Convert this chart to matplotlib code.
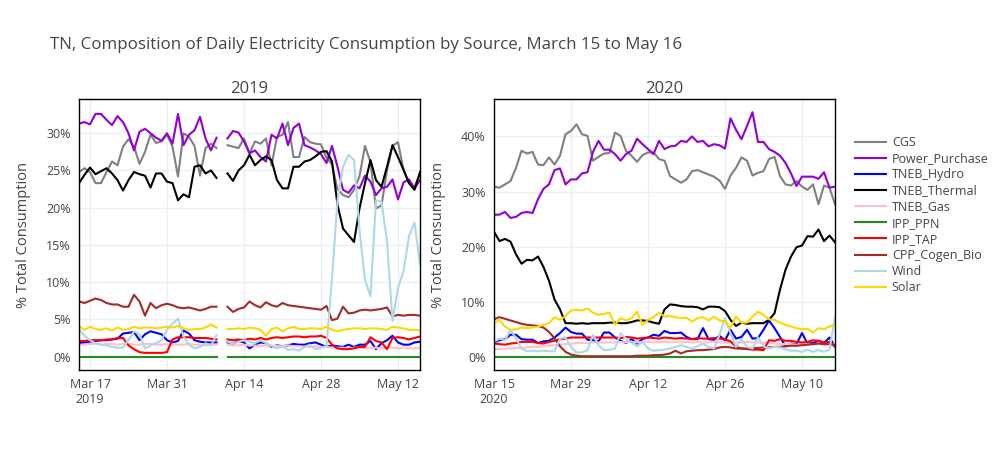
import numpy as np
import pandas as pd
import matplotlib
matplotlib.use("Agg")
import matplotlib.pyplot as plt

nan = np.nan

sources = ['CGS', 'Power_Purchase', 'TNEB_Hydro', 'TNEB_Thermal', 'TNEB_Gas',
           'IPP_PPN', 'IPP_TAP', 'CPP_Cogen_Bio', 'Wind', 'Solar']
colors = ['grey', 'darkviolet', 'blue', 'black', 'pink',
          'forestgreen', 'red', 'brown', 'lightblue', 'gold']

dates_2019 = pd.date_range('2019-03-15', '2019-05-16', freq='D')
dates_2020 = pd.date_range('2020-03-15', '2020-05-16', freq='D')

# 2019, % of total consumption (Apr 10 missing)
cgs_2019 = [24.8, 25.3, 24.8, 23.3, 23.3, 24.8, 26.2, 25.7, 28.2, 29.2, 28.2, 25.9, 27.5, 29.8, 28.7, 28.9,
            29.8, 28.2, 24.2, 30.0, 29.5, 28.3, 24.3, 28.0, 28.6, 28.0, nan,
            28.4, 28.2, 28.0, 29.3, 27.3, 28.9, 28.6, 29.3, 25.7, 29.5, 29.8, 31.5, 26.8, 26.8, 29.5, 28.8,
            28.6, 28.5, 26.7, 25.8, 22.5, 21.7, 21.4, 22.4, 24.2, 28.3, 26.1, 19.9, 20.3, 25.0, 28.3, 28.8,
            25.1, 23.3, 22.8, 24.5]
pp_2019 = [31.3, 31.5, 31.2, 32.6, 32.6, 31.8, 31.1, 32.3, 31.5, 30.0, 27.7, 30.2, 30.6, 30.0, 29.4, 29.0,
           30.0, 28.6, 32.6, 28.4, 29.8, 30.4, 32.2, 29.3, 27.7, 29.4, nan,
           29.3, 30.3, 30.1, 28.9, 27.3, 27.7, 26.8, 26.2, 29.8, 29.3, 31.3, 28.4, 30.7, 31.3, 28.4, 28.1,
           27.7, 27.2, 26.0, 28.3, 25.5, 22.4, 22.0, 23.0, 22.6, 24.3, 23.5, 21.7, 22.6, 22.8, 23.8, 21.1,
           23.4, 23.8, 22.6, 23.7]
hydro_2019 = [1.8, 1.9, 2.0, 2.1, 2.2, 2.2, 2.3, 2.4, 3.1, 3.2, 3.3, 2.2, 3.0, 3.4, 3.2, 3.0,
              2.2, 1.9, 2.1, 3.5, 3.1, 2.2, 2.0, 1.9, 1.9, 1.9, nan,
              1.9, 1.7, 2.1, 1.9, 1.1, 1.6, 1.9, 1.8, 1.3, 1.5, 1.4, 1.5, 1.7, 1.6, 1.6, 1.8,
              1.9, 1.6, 1.3, 1.5, 1.4, 1.3, 1.6, 1.3, 1.6, 1.6, 2.1, 1.0, 1.8, 2.2, 2.8, 1.9,
              1.6, 1.6, 1.9, 2.0]
thermal_2019 = [23.3, 24.4, 25.4, 24.5, 24.9, 25.3, 24.6, 23.7, 22.3, 23.7, 24.8, 24.5, 24.3, 22.7, 24.6, 24.6,
                23.5, 23.3, 21.0, 21.8, 21.4, 25.5, 25.7, 24.6, 25.0, 24.0, nan,
                24.6, 23.6, 25.0, 25.7, 27.1, 25.7, 26.4, 26.9, 26.4, 23.7, 22.6, 22.6, 25.5, 25.5, 26.2, 26.4,
                26.9, 27.5, 27.6, 26.2, 20.4, 17.2, 16.3, 15.4, 19.9, 23.3, 26.4, 23.7, 22.8, 25.5, 28.4, 26.8,
                25.1, 23.3, 22.4, 24.8]
gas_2019 = [1.6, 1.6, 1.7, 1.7, 1.6, 1.7, 1.7, 1.6, 1.7, 1.7, 1.6, 1.6, 1.7, 1.7, 1.6, 1.6,
            1.7, 1.6, 1.6, 1.6, 1.7, 1.6, 1.6, 1.5, 1.6, 1.6, nan,
            1.6, 1.5, 1.5, 1.6, 1.5, 1.5, 1.4, 1.5, 1.5, 1.4, 1.4, 1.5, 1.4, 1.4, 1.3, 1.3,
            1.4, 1.3, 1.3, 1.2, 1.2, 1.2, 1.1, 1.2, 1.2, 1.1, 1.2, 1.2, 1.1, 1.2, 1.2, 1.1,
            1.2, 1.1, 1.1, 1.2]
ppn_2019 = [0.0, 0.0, 0.0, 0.0, 0.0, 0.0, 0.0, 0.0, 0.0, 0.0, 0.0, 0.0, 0.0, 0.0, 0.0, 0.0,
            0.0, 0.0, 0.0, 0.0, 0.0, 0.0, 0.0, 0.0, 0.0, 0.0, nan,
            0.0, 0.0, 0.0, 0.0, 0.0, 0.0, 0.0, 0.0, 0.0, 0.0, 0.0, 0.0, 0.0, 0.0, 0.0, 0.0,
            0.0, 0.0, 0.0, 0.0, 0.0, 0.0, 0.0, 0.0, 0.0, 0.0, 0.0, 0.0, 0.0, 0.0, 0.0, 0.0,
            0.0, 0.0, 0.0, 0.0]
tap_2019 = [2.1, 2.1, 2.2, 2.2, 2.2, 2.3, 2.3, 2.5, 2.5, 1.5, 1.0, 0.6, 0.5, 0.5, 0.5, 0.5,
            0.6, 2.3, 2.6, 2.6, 2.6, 2.5, 2.5, 2.5, 2.4, 2.3, nan,
            2.3, 2.2, 2.3, 2.2, 2.4, 2.3, 2.5, 2.3, 2.5, 2.6, 2.5, 2.6, 2.7, 2.7, 2.6, 2.7,
            2.7, 2.8, 2.5, 1.6, 1.1, 1.0, 1.0, 1.1, 1.3, 1.3, 2.6, 2.1, 1.9, 1.0, 2.5, 2.6,
            2.5, 2.3, 2.5, 2.7]
cogen_2019 = [7.4, 7.2, 7.5, 7.8, 7.6, 7.2, 7.0, 7.0, 6.7, 6.7, 8.3, 7.4, 5.5, 7.2, 6.5, 6.9,
              7.1, 6.9, 6.6, 6.5, 6.6, 6.4, 6.2, 6.4, 6.7, 6.7, nan,
              6.7, 6.0, 6.4, 6.6, 7.4, 6.9, 6.6, 7.3, 6.9, 6.7, 7.2, 6.9, 6.8, 6.7, 6.6, 6.5,
              6.4, 6.3, 6.8, 4.9, 5.1, 6.7, 5.8, 5.9, 6.2, 6.3, 6.2, 6.3, 6.4, 6.6, 5.4, 5.6,
              5.5, 5.6, 5.6, 5.5]
wind_2019 = [3.7, 2.8, 2.2, 1.8, 1.6, 1.5, 1.3, 1.2, 1.2, 2.2, 3.4, 3.0, 1.1, 1.5, 1.8, 2.2,
             3.6, 4.4, 5.1, 2.7, 1.6, 1.1, 1.3, 1.8, 1.5, 2.9, nan,
             2.0, 1.7, 2.0, 2.2, 2.0, 1.8, 2.2, 1.8, 1.4, 1.1, 1.4, 0.9, 1.0, 0.8, 1.3, 1.6,
             1.0, 1.2, 1.4, 10.5, 21.0, 25.5, 27.1, 26.4, 17.0, 10.3, 8.1, 21.0, 20.8, 15.5, 4.8, 9.2,
             11.5, 16.2, 18.0, 12.4]
solar_2019 = [4.1, 3.6, 4.0, 3.7, 3.6, 3.8, 3.5, 3.9, 3.6, 3.7, 4.0, 3.8, 3.9, 3.9, 3.8, 3.9,
              4.0, 3.9, 4.1, 3.8, 3.6, 3.7, 3.7, 3.9, 4.3, 3.9, nan,
              3.7, 3.7, 3.8, 3.7, 3.9, 3.8, 3.6, 2.8, 3.7, 3.9, 3.4, 3.8, 4.0, 3.7, 3.7, 3.8,
              3.8, 3.7, 4.0, 3.6, 3.4, 3.6, 3.7, 3.8, 3.8, 3.7, 3.8, 3.8, 3.7, 3.6, 4.0, 3.9,
              3.8, 3.6, 3.6, 3.5]

# 2020, % of total consumption
cgs_2020 = [30.9, 30.7, 31.3, 31.9, 34.3, 37.4, 36.9, 37.2, 34.9, 34.8, 36.2, 34.9, 36.5, 40.4, 41.0, 42.2,
            40.4, 40.1, 35.6, 36.3, 36.9, 37.0, 40.7, 40.1, 37.4, 36.5, 35.4, 36.6, 37.1, 37.1, 35.9, 35.6,
            32.8, 32.2, 31.6, 32.2, 33.7, 33.9, 33.5, 33.1, 32.7, 32.0, 30.5, 32.9, 34.3, 36.2, 35.6, 32.9,
            33.4, 33.7, 35.9, 36.3, 32.8, 31.3, 31.1, 31.9, 30.9, 30.3, 31.3, 27.7, 31.1, 30.7, 27.7]
pp_2020 = [25.8, 25.8, 26.3, 25.2, 25.4, 26.1, 26.3, 26.1, 28.6, 30.5, 31.3, 33.9, 34.2, 31.3, 32.2, 32.2,
           33.3, 33.5, 37.2, 39.2, 37.6, 37.6, 36.8, 35.6, 36.8, 37.4, 39.6, 38.6, 37.7, 36.8, 39.2, 37.7,
           38.2, 38.3, 39.2, 39.0, 40.0, 39.0, 39.2, 38.2, 38.6, 38.4, 37.8, 43.3, 41.2, 39.5, 41.9, 44.4,
           39.0, 39.0, 37.7, 37.2, 36.5, 35.2, 33.3, 31.0, 32.7, 32.7, 32.7, 32.3, 33.5, 30.7, 30.9]
hydro_2020 = [2.6, 3.0, 3.2, 4.0, 4.0, 3.2, 3.1, 3.1, 2.5, 2.8, 2.9, 3.5, 4.3, 5.3, 4.5, 4.2,
              4.2, 3.1, 3.0, 2.8, 4.4, 4.4, 3.5, 2.9, 2.5, 3.2, 2.4, 3.2, 3.5, 4.0, 3.8, 4.7,
              4.3, 4.3, 4.4, 3.6, 3.2, 3.2, 5.2, 3.2, 3.1, 3.8, 3.0, 4.9, 3.3, 3.6, 4.9, 3.3,
              3.4, 4.9, 6.6, 5.2, 3.6, 1.9, 2.4, 2.3, 4.3, 2.4, 2.5, 2.9, 2.5, 3.5, 1.8]
thermal_2020 = [22.7, 21.0, 21.4, 20.9, 18.6, 16.9, 17.6, 17.5, 18.2, 16.3, 13.8, 10.4, 8.6, 6.1, 6.1, 6.0,
                6.1, 6.0, 6.1, 6.1, 6.1, 6.2, 6.2, 6.1, 6.1, 6.3, 6.6, 6.6, 6.5, 6.2, 6.0, 8.6,
                9.5, 9.4, 9.2, 9.1, 9.1, 9.0, 8.6, 9.1, 9.1, 9.0, 8.3, 6.7, 5.6, 6.2, 6.0, 6.1,
                6.1, 6.1, 6.7, 7.9, 12.2, 15.8, 18.2, 19.9, 20.2, 21.9, 21.8, 23.1, 21.0, 22.0, 20.8]
gas_2020 = [1.4, 1.4, 1.5, 1.5, 1.6, 1.6, 1.7, 1.8, 1.8, 1.9, 2.0, 2.1, 2.2, 2.3, 2.4, 2.5,
            2.5, 2.5, 2.6, 2.6, 2.6, 2.6, 2.6, 2.7, 2.6, 2.7, 2.6, 2.7, 2.7, 2.6, 2.7, 2.7,
            2.6, 2.7, 2.6, 2.7, 2.6, 2.7, 2.6, 2.6, 2.7, 2.6, 2.6, 2.7, 2.6, 2.6, 2.7, 2.6,
            2.6, 2.5, 2.4, 2.4, 2.3, 2.3, 2.3, 2.2, 2.3, 2.3, 2.2, 2.3, 2.2, 2.3, 2.2]
ppn_2020 = [0.0, 0.0, 0.0, 0.0, 0.0, 0.0, 0.0, 0.0, 0.0, 0.0, 0.0, 0.0, 0.0, 0.0, 0.0, 0.0,
            0.0, 0.0, 0.0, 0.0, 0.0, 0.0, 0.0, 0.0, 0.0, 0.0, 0.0, 0.0, 0.0, 0.0, 0.0, 0.0,
            0.0, 0.0, 0.0, 0.0, 0.0, 0.0, 0.0, 0.0, 0.0, 0.0, 0.0, 0.0, 0.0, 0.0, 0.0, 0.0,
            0.0, 0.0, 0.0, 0.0, 0.0, 0.0, 0.0, 0.0, 0.0, 0.0, 0.0, 0.0, 0.0, 0.0, 0.0]
tap_2020 = [2.4, 2.3, 2.2, 2.4, 2.5, 2.7, 2.7, 2.7, 2.5, 2.4, 2.7, 2.9, 3.2, 3.3, 3.5, 3.5,
            3.5, 3.5, 3.5, 3.5, 3.5, 3.5, 3.5, 3.4, 3.6, 3.5, 3.3, 3.4, 3.5, 3.4, 3.3, 3.5,
            3.4, 3.3, 3.4, 3.3, 3.2, 3.4, 3.3, 3.3, 3.4, 3.3, 3.2, 2.8, 1.8, 1.5, 1.4, 1.3,
            1.3, 1.2, 3.0, 2.9, 3.2, 2.9, 2.9, 2.7, 2.6, 2.7, 3.0, 2.9, 2.6, 2.7, 1.9]
cogen_2020 = [6.8, 7.2, 6.9, 6.6, 6.3, 6.0, 5.8, 5.7, 5.6, 5.3, 4.5, 3.4, 1.9, 0.9, 0.4, 0.2,
              0.1, 0.1, 0.1, 0.1, 0.1, 0.1, 0.1, 0.1, 0.1, 0.1, 0.2, 0.2, 0.2, 0.3, 0.3, 0.4,
              0.6, 1.1, 0.6, 1.0, 1.1, 1.2, 1.2, 1.3, 1.4, 1.7, 1.8, 1.7, 1.5, 1.5, 1.5, 1.6,
              1.6, 1.7, 1.7, 1.8, 1.8, 1.9, 2.0, 2.0, 2.1, 2.2, 2.3, 2.4, 2.3, 2.3, 2.1]
wind_2020 = [2.7, 3.3, 3.0, 4.9, 3.3, 1.5, 1.0, 1.1, 1.0, 1.1, 1.0, 1.0, 3.3, 3.5, 1.8, 0.8,
             0.8, 1.2, 4.0, 2.1, 1.2, 1.3, 1.5, 4.3, 3.3, 2.6, 1.9, 2.7, 1.5, 1.1, 1.2, 1.3,
             1.5, 1.8, 2.1, 1.8, 1.5, 1.9, 2.4, 1.8, 1.5, 4.0, 7.0, 4.3, 1.8, 3.2, 1.8, 1.5,
             3.5, 1.9, 1.5, 1.8, 1.7, 1.3, 1.1, 1.1, 0.9, 1.3, 0.9, 1.2, 0.9, 1.3, 7.3]
solar_2020 = [6.1, 6.7, 5.5, 4.9, 5.0, 5.3, 5.2, 5.3, 5.5, 5.8, 6.1, 7.2, 6.7, 7.4, 8.4, 8.5,
              8.4, 8.8, 8.0, 7.6, 7.8, 8.0, 5.8, 7.0, 6.6, 7.0, 8.2, 5.8, 6.7, 7.2, 8.0, 7.3,
              7.4, 7.2, 7.0, 7.1, 6.4, 7.0, 7.2, 6.6, 7.3, 6.6, 6.4, 5.3, 7.3, 6.2, 6.2, 7.3,
              8.2, 7.6, 6.8, 6.7, 6.2, 5.8, 5.5, 5.2, 5.0, 5.1, 4.4, 5.2, 5.0, 5.5, 5.8]

series_2019 = [cgs_2019, pp_2019, hydro_2019, thermal_2019, gas_2019,
               ppn_2019, tap_2019, cogen_2019, wind_2019, solar_2019]
series_2020 = [cgs_2020, pp_2020, hydro_2020, thermal_2020, gas_2020,
               ppn_2020, tap_2020, cogen_2020, wind_2020, solar_2020]

ticks_2019 = ['2019-03-17', '2019-03-31', '2019-04-14', '2019-04-28', '2019-05-12']
ticks_2020 = ['2020-03-15', '2020-03-29', '2020-04-12', '2020-04-26', '2020-05-10']

plt.rcParams['font.family'] = ['Open Sans', 'DejaVu Sans']
text_color = '#444444'

fig = plt.figure(figsize=(10, 4.5), dpi=100)
fig.text(0.05, 1 - 45 / 450, 'TN, Composition of Daily Electricity Consumption by Source, March 15 to May 16',
         fontsize=12.2, color=text_color, va='center', ha='left')

ax1 = fig.add_axes([0.079, 1 - 370 / 450, 0.341, 271 / 450])
ax2 = fig.add_axes([0.494, 1 - 370 / 450, 0.341, 271 / 450])


def draw(ax, dates, series, title, ticks, ylim, ystep):
    for name, vals, c in zip(sources, series, colors):
        ax.plot(dates, vals, color=c, lw=1.5, label=name)
    ax.set_xlim(dates[0], dates[-1])
    ax.set_ylim(*ylim)
    ax.set_yticks(np.arange(0, ylim[1], ystep))
    ax.yaxis.set_major_formatter(matplotlib.ticker.FuncFormatter(lambda v, p: '%d%%' % v))
    tk = pd.to_datetime(ticks)
    ax.set_xticks(tk)
    labels = [d.strftime('%b %d') for d in tk]
    labels[0] = labels[0] + '\n' + tk[0].strftime('%Y')
    ax.set_xticklabels(labels)
    ax.grid(True, color='#EBF0F8', lw=1)
    ax.set_axisbelow(True)
    for s in ax.spines.values():
        s.set_color('black')
        s.set_linewidth(1.0)
    ax.tick_params(length=0, pad=6, labelsize=9, colors=text_color)
    ax.set_title(title, fontsize=12, color=text_color, pad=4)
    ax.set_ylabel('% Total Consumption', fontsize=10.5, color=text_color, labelpad=11)


draw(ax1, dates_2019, series_2019, '2019', ticks_2019, (-1.8, 34.6), 5)
draw(ax2, dates_2020, series_2020, '2020', ticks_2020, (-2.4, 46.8), 10)

ax2.legend(loc='upper left', bbox_to_anchor=(0.855, 1 - 136 / 450), bbox_transform=fig.transFigure,
           frameon=False, fontsize=9, handlelength=2.5, handletextpad=0.45, labelspacing=0.25,
           borderpad=0, borderaxespad=0, labelcolor=text_color)

fig.savefig('out.png', dpi=100)
